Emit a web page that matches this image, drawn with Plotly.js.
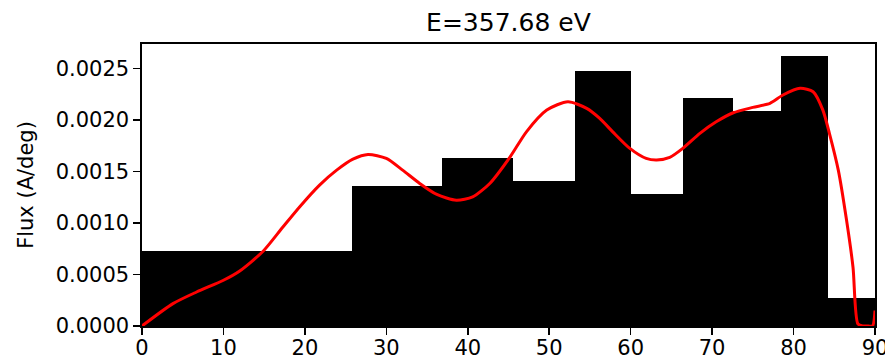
<!DOCTYPE html>
<html>
<head>
<meta charset="utf-8">
<script src="https://cdn.plot.ly/plotly-3.0.1.min.js"></script>
<style>html,body{margin:0;padding:0;background:#fff;}#chart{width:885px;height:363px;}</style>
</head>
<body>
<div id="chart"></div>
<script>
// Histogram bin edges (deg) and flux per bin
var binEdges = [0, 25.84, 36.87, 45.57, 53.13, 60.0, 66.42, 72.54, 78.46, 84.26, 90];
var binFlux = [0.000732, 0.00136, 0.001629, 0.001405, 0.002474, 0.00128, 0.00221, 0.002085, 0.00262, 0.000276];

// Smooth fitted curve
var curveX = [0, 3.8, 6.7, 10, 12, 14.9, 17.3, 19.4, 21.8, 23.9, 25.9, 27.75, 30, 32, 34.1, 36.2, 38.6, 40.6, 42.7, 45.2, 47.2, 49.7, 52.3, 54.6, 56.2, 57.8, 59.9, 61.9, 63.2, 64.8, 66.4, 68.5, 70.5, 72.6, 75, 77.1, 78.7, 80.8, 82.4, 83.6, 84.4, 85.5, 86.5, 87.3, 87.9, 88.5, 89.2, 89.7, 90];
var curveY = [0, 0.000217, 0.00033, 0.000444, 0.000534, 0.000728, 0.00096, 0.00116, 0.001367, 0.001512, 0.001619, 0.001665, 0.001626, 0.001512, 0.001383, 0.001276, 0.00122, 0.001253, 0.001383, 0.001641, 0.001884, 0.002095, 0.002176, 0.002111, 0.002014, 0.001884, 0.001723, 0.001626, 0.00161, 0.001636, 0.001723, 0.001869, 0.001981, 0.002069, 0.002121, 0.00216, 0.002241, 0.002306, 0.002273, 0.002095, 0.00187, 0.00151, 0.00103, 0.00057, 0.00002, 0, 0, 0, 0.00015];

var titleText = 'E=357.68 eV';
var yTitle = 'Flux (A/deg)';
var xTicks = [0, 10, 20, 30, 40, 50, 60, 70, 80, 90];
var yTicks = [0, 0.0005, 0.001, 0.0015, 0.002, 0.0025];

var lefts = binEdges.slice(0, -1);
var widths = lefts.map(function (v, i) { return binEdges[i + 1] - v; });

var font = 'DejaVu Sans, sans-serif';
var traces = [
  {
    type: 'bar', x: lefts, y: binFlux, width: widths, offset: 0,
    marker: {color: '#000000', line: {width: 0}}, hoverinfo: 'skip', showlegend: false
  },
  {
    type: 'scatter', mode: 'lines', x: curveX, y: curveY,
    line: {color: '#ff0000', width: 3, shape: 'spline', smoothing: 0.7},
    showlegend: false, cliponaxis: true
  }
];

var axisCommon = {
  showgrid: false, zeroline: false, showline: true, mirror: true,
  linecolor: '#000000', linewidth: 1.6,
  ticks: 'outside', ticklen: 7, tickwidth: 1.6, tickcolor: '#000000',
  tickfont: {family: font, size: 21, color: '#000000'},
  ticklabeloverflow: 'allow'
};

var layout = {
  width: 885, height: 363,
  margin: {l: 142, r: 10, t: 44, b: 37},
  paper_bgcolor: '#ffffff', plot_bgcolor: '#ffffff',
  title: {text: titleText, font: {family: font, size: 25, color: '#000000'},
          x: 0.5745, xanchor: 'center', y: 1 - 22 / 363, yanchor: 'middle', yref: 'container'},
  xaxis: Object.assign({}, axisCommon, {
    range: [0, 90], tickvals: xTicks, ticktext: xTicks.map(String), ticklabelstandoff: -5
  }),
  yaxis: Object.assign({}, axisCommon, {
    range: [0, 0.002736], tickvals: yTicks,
    ticktext: yTicks.map(function (v) { return v.toFixed(4); }),
    title: {text: yTitle, font: {family: font, size: 21, color: '#000000'}, standoff: 16}
  }),
  bargap: 0, showlegend: false
};

Plotly.newPlot('chart', traces, layout, {displayModeBar: false, staticPlot: true});
</script>
</body>
</html>
